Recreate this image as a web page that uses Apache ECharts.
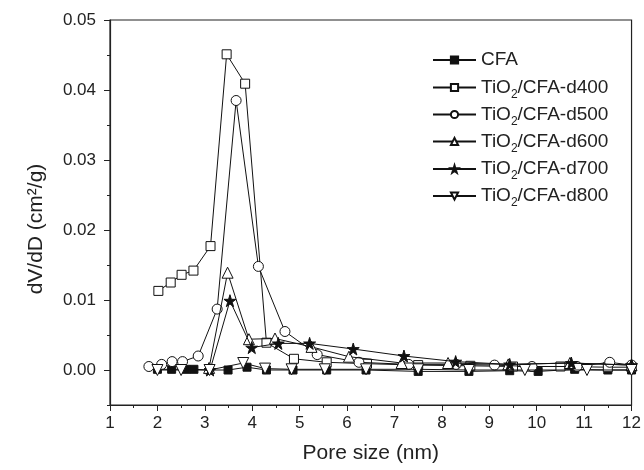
<!DOCTYPE html>
<html><head><meta charset="utf-8">
<script src="https://cdn.jsdelivr.net/npm/echarts@6/dist/echarts.min.js"></script>
<style>html,body{margin:0;padding:0;background:#fff}#c{width:644px;height:470px}</style>
</head><body><div id="c"></div>
<script>
const seriesNames = ['CFA','TiO2/CFA-d400','TiO2/CFA-d500','TiO2/CFA-d600','TiO2/CFA-d700','TiO2/CFA-d800'];
const cfaX = [2.0, 2.3, 2.6, 2.77, 3.1, 3.49, 3.89, 4.3, 4.86, 5.57, 6.4, 7.5, 8.57, 9.43, 10.03, 10.8, 11.5, 12];
const cfaY = [0.0001, 0.0001, 0.0001, 0.0001, 0.0, 0.0, 0.0004, 0.0, 0.0, 0.0, 0.0, -0.0002, -0.0002, -0.0001, -0.0002, 0.0001, 0.0, 0.0];
const d400X = [2.02, 2.28, 2.51, 2.76, 3.12, 3.46, 3.85, 4.30, 4.88, 5.57, 6.42, 7.5, 8.6, 9.5, 10.5, 11.5, 12];
const d400Y = [0.0113, 0.0125, 0.0136, 0.0142, 0.0177, 0.0451, 0.0409, 0.0039, 0.0016, 0.0011, 0.0009, 0.0007, 0.0006, 0.0005, 0.0005, 0.0004, 0.0004];
const d500X = [1.82, 2.09, 2.31, 2.53, 2.86, 3.26, 3.66, 4.13, 4.69, 5.37, 6.25, 7.3, 8.3, 9.11, 9.9, 10.85, 11.54, 12];
const d500Y = [0.0005, 0.0008, 0.0012, 0.0012, 0.002, 0.0087, 0.0385, 0.0148, 0.0055, 0.0022, 0.0011, 0.0008, 0.0008, 0.0007, 0.0005, 0.0005, 0.0011, 0.0007];
const d600X = [3.09, 3.48, 3.93, 4.48, 5.25, 6.04, 7.15, 8.13, 9.4, 10.7, 12];
const d600Y = [0.0003, 0.0139, 0.0044, 0.0045, 0.0033, 0.0019, 0.001, 0.001, 0.0008, 0.001, 0.0007];
const d700X = [3.11, 3.53, 3.99, 4.55, 5.21, 6.13, 7.2, 8.29, 9.43, 10.73, 12];
const d700Y = [0.0, 0.0099, 0.0032, 0.0038, 0.0038, 0.003, 0.002, 0.0012, 0.0008, 0.001, 0.0007];
const d800X = [2.0, 2.5, 3.1, 3.81, 4.27, 4.83, 5.53, 6.4, 7.5, 8.57, 9.75, 11.06, 12];
const d800Y = [0, 0, 0, 0.001, 0.0002, 0.0001, 0.0001, 0.0001, 0.0001, 0.0, 0.0, 0.0, 0.0];
const yMajorTicks = [0, 0.01, 0.02, 0.03, 0.04, 0.05];
const yMinorTicks = [-0.005, 0.005, 0.015, 0.025, 0.035, 0.045];
const xTitle = 'Pore size (nm)';
const yTitle = 'dV/dD (cm²/g)';

const zip = (xs, ys) => xs.map((x, i) => [x, ys[i]]);
const STAR = 'path://M50,0 L61,35 L98,35 L68,57 L79,91 L50,70 L21,91 L32,57 L2,35 L39,35 Z';
const black = '#111';
const styles = [
  {symbol: 'rect', size: 8, fill: black, rot: 0},
  {symbol: 'rect', size: 9, fill: '#fff', rot: 0},
  {symbol: 'circle', size: 10, fill: '#fff', rot: 0},
  {symbol: 'triangle', size: 11, fill: '#fff', rot: 0},
  {symbol: STAR, size: 12, fill: black, rot: 0},
  {symbol: 'triangle', size: 11, fill: '#fff', rot: 180}
];
const datas = [zip(cfaX,cfaY), zip(d400X,d400Y), zip(d500X,d500Y), zip(d600X,d600Y), zip(d700X,d700Y), zip(d800X,d800Y)];
const legendCenters = [59, 86.5, 113.5, 140.5, 168, 195];

const chart = echarts.init(document.getElementById('c'), null, {renderer: 'canvas'});
const font = '"Liberation Sans", Arial, sans-serif';
const legendFmt = n => n.replace('TiO2', 'TiO{s|2}');
const legendText = {fontFamily: font, fontSize: 19, color: '#222', rich: {s: {fontFamily: font, fontSize: 12, color: '#222', padding: [14, 0, 0, 0]}}};
chart.setOption({
  animation: false,
  backgroundColor: '#fff',
  grid: {left: 110, right: 12, top: 20, bottom: 65, show: true, borderColor: '#222', borderWidth: 1.2, backgroundColor: 'transparent'},
  legend: seriesNames.map((n, i) => ({
    data: [n], orient: 'vertical', left: 432, top: legendCenters[i] - 8.5, padding: 0,
    itemWidth: 43, itemHeight: 9, formatter: legendFmt, textStyle: legendText
  })),
  graphic: [{
    type: 'text', x: 36, y: 229, rotation: Math.PI / 2,
    style: {text: yTitle, fontFamily: font, fontSize: 21, fill: '#222', align: 'center', verticalAlign: 'middle'}
  }],
  xAxis: {
    type: 'value', min: 1, max: 12, interval: 1,
    name: xTitle, nameLocation: 'middle', nameGap: 38,
    nameTextStyle: {fontFamily: font, fontSize: 21, color: '#222'},
    axisLine: {onZero: false, lineStyle: {color: '#222', width: 1.2}},
    axisTick: {inside: false, length: 6, lineStyle: {color: '#222'}},
    minorTick: {show: true, splitNumber: 2, length: 3, lineStyle: {color: '#222'}},
    splitLine: {show: false},
    axisLabel: {fontFamily: font, fontSize: 17, color: '#222', margin: 10}
  },
  yAxis: [
    {
      type: 'value', min: -0.005, max: 0.05,
      axisLine: {show: true, onZero: false, lineStyle: {color: '#222', width: 1.2}},
      axisTick: {show: true, length: 6, customValues: yMajorTicks, lineStyle: {color: '#222'}},
      splitLine: {show: false},
      axisLabel: {fontFamily: font, fontSize: 17, color: '#222', margin: 14, customValues: yMajorTicks, formatter: v => v.toFixed(2)}
    },
    {
      type: 'value', min: -0.005, max: 0.05, position: 'left',
      axisLine: {show: false},
      axisTick: {show: true, length: 3, customValues: yMinorTicks, lineStyle: {color: '#222'}},
      splitLine: {show: false},
      axisLabel: {show: false}
    }
  ],
  series: seriesNames.map((n, i) => ({
    name: n, type: 'line', data: datas[i], xAxisIndex: 0, yAxisIndex: 0,
    symbol: styles[i].symbol, symbolSize: styles[i].size, symbolRotate: styles[i].rot,
    showAllSymbol: true,
    lineStyle: {color: black, width: 1},
    itemStyle: {color: styles[i].fill, borderColor: black, borderWidth: 1},
    z: 2 + i
  }))
});
</script></body></html>
